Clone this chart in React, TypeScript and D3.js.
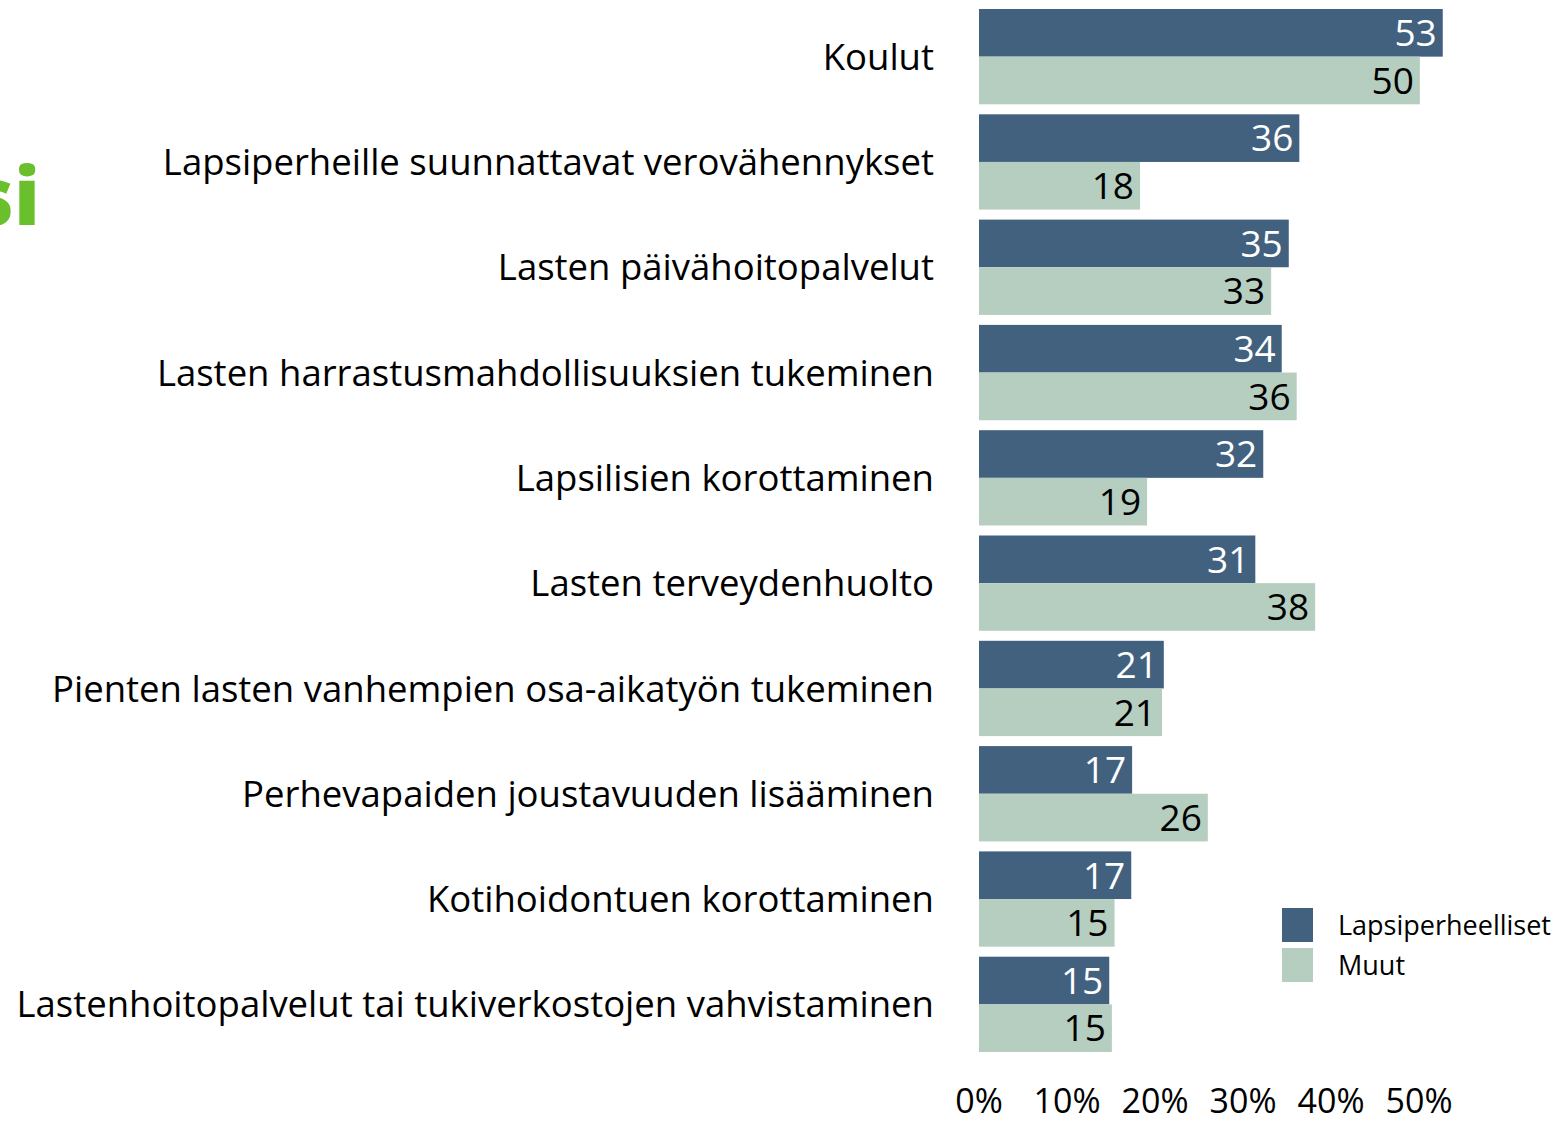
import React from "react";
import { scaleLinear, scaleBand } from "d3";

// categories top to bottom
const categories = [
  "Koulut",
  "Lapsiperheille suunnattavat verovähennykset",
  "Lasten päivähoitopalvelut",
  "Lasten harrastusmahdollisuuksien tukeminen",
  "Lapsilisien korottaminen",
  "Lasten terveydenhuolto",
  "Pienten lasten vanhempien osa-aikatyön tukeminen",
  "Perhevapaiden joustavuuden lisääminen",
  "Kotihoidontuen korottaminen",
  "Lastenhoitopalvelut tai tukiverkostojen vahvistaminen",
];

const seriesNames = ["Lapsiperheelliset", "Muut"];
const lapsiperheelliset = [52.7, 36.4, 35.2, 34.4, 32.3, 31.4, 21.0, 17.4, 17.3, 14.8];
const muut = [50.1, 18.3, 33.2, 36.1, 19.1, 38.2, 20.8, 26.0, 15.4, 15.1];
const xTicks = [0, 10, 20, 30, 40, 50];

const colors = ["#42617f", "#b5cec0"];
const textColors = ["#ffffff", "#000000"];
const FONT = "'Open Sans', 'Noto Sans', sans-serif";

const W = 1557;
const H = 1121;

export default function App() {
  const x = scaleLinear().domain([0, 50]).range([979, 1419]);
  const y = scaleBand<string>()
    .domain(categories)
    .range([9, 1052])
    .paddingInner(0.095)
    .paddingOuter(0);
  const inner = scaleBand<string>()
    .domain(seriesNames)
    .range([0, y.bandwidth()]);

  const series = [lapsiperheelliset, muut];
  const labelSize = 36.5;
  const valueSize = 37;

  return (
    <svg
      width={W}
      height={H}
      style={{ position: "absolute", left: 0, top: 0, display: "block", background: "#fff" }}
    >
      {/* cropped title fragment at the left edge */}
      <text
        x={40}
        y={225}
        textAnchor="end"
        fontFamily={FONT}
        fontWeight={800}
        fontSize={80}
        fill="#6abf2c"
      >
        si
      </text>

      {categories.map((c, i) => {
        const y0 = y(c) as number;
        return (
          <g key={c}>
            <text
              x={934}
              y={y0 + y.bandwidth() / 2 + labelSize * 0.36}
              textAnchor="end"
              fontFamily={FONT}
              fontSize={labelSize}
              fill="#000"
            >
              {c}
            </text>
            {series.map((vals, s) => {
              const by = y0 + (inner(seriesNames[s]) as number);
              const bh = inner.bandwidth();
              const v = vals[i];
              return (
                <g key={s}>
                  <rect x={x(0)} y={by} width={x(v) - x(0)} height={bh} fill={colors[s]} />
                  <text
                    x={x(v) - 6}
                    y={by + bh / 2 + valueSize * 0.36}
                    textAnchor="end"
                    fontFamily={FONT}
                    fontSize={valueSize}
                    fill={textColors[s]}
                  >
                    {Math.round(v)}
                  </text>
                </g>
              );
            })}
          </g>
        );
      })}

      {xTicks.map((t) => (
        <text
          key={t}
          x={x(t)}
          y={1113}
          textAnchor="middle"
          fontFamily={FONT}
          fontSize={34}
          fill="#000"
        >
          {t}%
        </text>
      ))}

      {seriesNames.map((n, s) => (
        <g key={n} transform={`translate(1282, ${908 + s * 40})`}>
          <rect width={31} height={34} fill={colors[s]} />
          <text x={56} y={17 + 27 * 0.36} fontFamily={FONT} fontSize={27} fill="#000">
            {n}
          </text>
        </g>
      ))}
    </svg>
  );
}
